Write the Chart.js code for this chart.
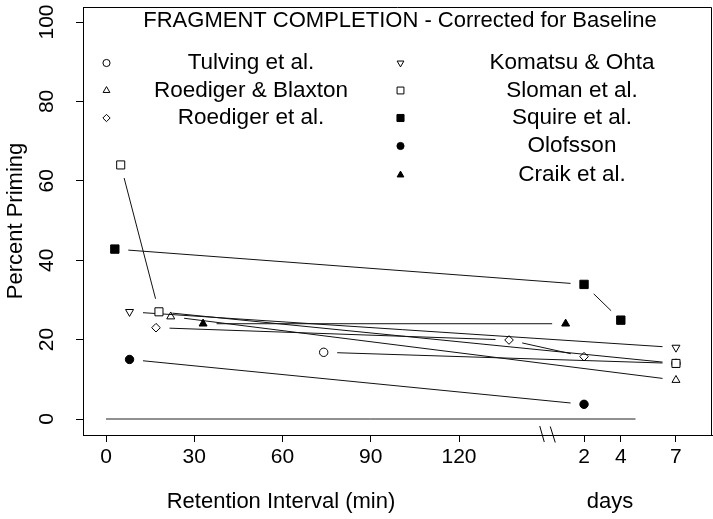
<!DOCTYPE html>
<html>
<head>
<meta charset="utf-8">
<script src="https://cdn.jsdelivr.net/npm/chart.js@4/dist/chart.umd.min.js"></script>
<style>
  html, body { margin: 0; padding: 0; background: #fff; }
  canvas { display: block; }
</style>
</head>
<body>
<canvas id="chart" width="713" height="519"></canvas>
<script>
// tick labels
const minuteTicks = [0, 30, 60, 90, 120];
const dayTicks = [2, 4, 7];
const yTicks = [0, 20, 40, 60, 80, 100];

// retention times: numbers are minutes, 'Nd' strings are days
const tulvingT = [74, '7d'];
const tulvingY = [16.8, 14];
const roedBlaxT = [22, '7d'];
const roedBlaxY = [25.8, 9.8];
const roedEtAlT = [17, 137, '2d'];
const roedEtAlY = [23, 19.9, 15.7];
const komatsuT = [8, '7d'];
const komatsuY = [27, 18];
const slomanT = [5, 18, '7d'];
const slomanY = [64, 27, 14];
const squireT = [3, '2d', '4d'];
const squireY = [42.8, 33.9, 24.9];
const olofssonT = [8, '2d'];
const olofssonY = [15, 3.7];
const craikT = [33, '1d'];
const craikY = [24, 24];
const baselineT = [0, '4.8d'];
const baselineY = [0, 0];

const FONT = "'Liberation Sans', Arial, Helvetica, sans-serif";
const GAP = 13.5;

// minutes run straight on; after the break each day takes 6.25 axis units
function pos(t) {
    if (typeof t === 'number') return t;
    return 150 + 6.25 * parseFloat(t);
}

const series = [
    { label: 'Tulving et al.', t: tulvingT, y: tulvingY, style: 'circle', r: 4.2, fill: '#fff', order: 5 },
    { label: 'Roediger & Blaxton', t: roedBlaxT, y: roedBlaxY, style: 'triangle', r: 4.6, fill: 'rgba(0,0,0,0)' },
    { label: 'Roediger et al.', t: roedEtAlT, y: roedEtAlY, style: 'rectRot', r: 4.3, fill: 'rgba(0,0,0,0)' },
    { label: 'Komatsu & Ohta', t: komatsuT, y: komatsuY, style: 'triangle', rot: 180, r: 4.6, fill: 'rgba(0,0,0,0)' },
    { label: 'Sloman et al.', t: slomanT, y: slomanY, style: 'rect', r: 5.7, fill: '#fff' },
    { label: 'Squire et al.', t: squireT, y: squireY, style: 'rect', r: 5.9, fill: '#000' },
    { label: 'Olofsson', t: olofssonT, y: olofssonY, style: 'circle', r: 4.2, fill: '#000' },
    { label: 'Craik et al.', t: craikT, y: craikY, style: 'triangle', r: 4.6, fill: '#000' }
];

const xTickVals = minuteTicks.concat(dayTicks.map(d => pos(d + 'd')));
const xTickText = minuteTicks.map(String).concat(dayTicks.map(String));

const datasets = series.map(s => ({
    label: s.label,
    data: s.t.map((t, i) => ({ x: pos(t), y: s.y[i] })),
    showLine: false,
    pointStyle: s.style,
    pointRotation: s.rot || 0,
    pointRadius: s.r,
    pointHoverRadius: s.r,
    pointBorderWidth: 1,
    pointBorderColor: '#000',
    pointBackgroundColor: s.fill,
    order: s.order || 0
}));

datasets.push({
    label: 'baseline',
    data: baselineT.map((t, i) => ({ x: pos(t), y: baselineY[i] })),
    showLine: true,
    borderColor: '#222',
    borderWidth: 1,
    pointRadius: 0,
    order: 9
});

// R "type b" lines: segments stop short of each marker
const gapLines = {
    id: 'gapLines',
    beforeDatasetsDraw(chart) {
        const { ctx, chartArea: a, scales: { x, y } } = chart;
        ctx.save();
        ctx.beginPath();
        ctx.rect(a.left, a.top, a.right - a.left, a.bottom - a.top);
        ctx.clip();
        ctx.strokeStyle = '#111';
        ctx.lineWidth = 1;
        series.forEach(s => {
            for (let i = 1; i < s.t.length; i++) {
                const x1 = x.getPixelForValue(pos(s.t[i - 1]));
                const y1 = y.getPixelForValue(s.y[i - 1]);
                const x2 = x.getPixelForValue(pos(s.t[i]));
                const y2 = y.getPixelForValue(s.y[i]);
                const dx = x2 - x1, dy = y2 - y1;
                const len = Math.hypot(dx, dy);
                if (len <= 2 * GAP) continue;
                const ux = dx / len, uy = dy / len;
                ctx.beginPath();
                ctx.moveTo(x1 + ux * GAP, y1 + uy * GAP);
                ctx.lineTo(x2 - ux * GAP, y2 - uy * GAP);
                ctx.stroke();
            }
        });
        ctx.restore();
    }
};

function legendMarker(ctx, s, x, y) {
    ctx.save();
    ctx.fillStyle = s.fill;
    ctx.strokeStyle = '#000';
    ctx.lineWidth = 1;
    if (Chart.helpers && Chart.helpers.drawPoint) {
        Chart.helpers.drawPoint(ctx, {
            pointStyle: s.style, rotation: s.rot || 0, radius: s.r * 0.85, borderWidth: 1
        }, x, y);
    }
    ctx.restore();
}

const annotations = {
    id: 'annotations',
    afterDraw(chart) {
        const { ctx, chartArea: a, scales: { x } } = chart;
        ctx.save();
        // rest of the box
        ctx.strokeStyle = '#000';
        ctx.lineWidth = 1;
        ctx.beginPath();
        ctx.moveTo(a.left, a.top + 0.5);
        ctx.lineTo(a.right - 0.5, a.top + 0.5);
        ctx.lineTo(a.right - 0.5, a.bottom);
        ctx.stroke();

        // axis break
        const bx = x.getPixelForValue(150);
        ctx.beginPath();
        ctx.moveTo(bx - 7.5, a.bottom - 9);
        ctx.lineTo(bx - 3, a.bottom + 7);
        ctx.moveTo(bx + 3, a.bottom - 8.5);
        ctx.lineTo(bx + 8, a.bottom + 7.5);
        ctx.stroke();

        ctx.fillStyle = '#000';
        ctx.font = '22px ' + FONT;
        ctx.textAlign = 'center';
        ctx.textBaseline = 'middle';
        ctx.fillText('FRAGMENT COMPLETION - Corrected for Baseline', 400, 21);

        ctx.font = '22.5px ' + FONT;
        const leftRows = [63, 90.5, 118];
        const rightRows = [63, 90.5, 118, 146, 175];
        series.slice(0, 3).forEach((s, i) => {
            legendMarker(ctx, s, 106.5, leftRows[i]);
            ctx.fillText(s.label, 251, leftRows[i]);
        });
        series.slice(3).forEach((s, i) => {
            legendMarker(ctx, s, 400.5, rightRows[i]);
            ctx.fillText(s.label, 572, rightRows[i]);
        });

        // axis titles
        ctx.font = '22px ' + FONT;
        ctx.fillText('Retention Interval (min)', 281, 502);
        ctx.fillText('days', 610, 502);
        ctx.translate(16, (a.top + a.bottom) / 2);
        ctx.rotate(-Math.PI / 2);
        ctx.fillText('Percent Priming', 0, 0);
        ctx.restore();
    }
};

const tickFont = { family: FONT, size: 21 };

new Chart(document.getElementById('chart'), {
    type: 'scatter',
    data: { datasets },
    options: {
        responsive: false,
        animation: false,
        devicePixelRatio: 1,
        layout: { autoPadding: false, padding: { top: 7, right: 1, left: 0, bottom: 0 } },
        plugins: { legend: { display: false }, tooltip: { enabled: false } },
        scales: {
            x: {
                type: 'linear',
                min: -7.82,
                max: 206.0,
                afterBuildTicks: s => { s.ticks = xTickVals.map(v => ({ value: v })); },
                afterFit: s => { s.height = 84; s.paddingLeft = 0; s.paddingRight = 0; },
                ticks: {
                    autoSkip: false,
                    maxRotation: 0,
                    padding: 2.5,
                    color: '#000',
                    font: tickFont,
                    callback: (v) => xTickText[xTickVals.indexOf(v)]
                },
                grid: { drawOnChartArea: false, drawTicks: true, tickLength: 7, color: '#000' },
                border: { display: true, color: '#000', width: 1 }
            },
            y: {
                type: 'linear',
                min: -4.03,
                max: 103.78,
                afterBuildTicks: s => { s.ticks = yTicks.map(v => ({ value: v })); },
                afterFit: s => { s.width = 83; s.paddingTop = 0; s.paddingBottom = 0; },
                ticks: {
                    autoSkip: false,
                    minRotation: 90,
                    maxRotation: 90,
                    crossAlign: 'center',
                    padding: 11,
                    color: '#000',
                    font: tickFont
                },
                grid: { drawOnChartArea: false, drawTicks: true, tickLength: 7, color: '#000' },
                border: { display: true, color: '#000', width: 1 }
            }
        }
    },
    plugins: [gapLines, annotations]
});
</script>
</body>
</html>
